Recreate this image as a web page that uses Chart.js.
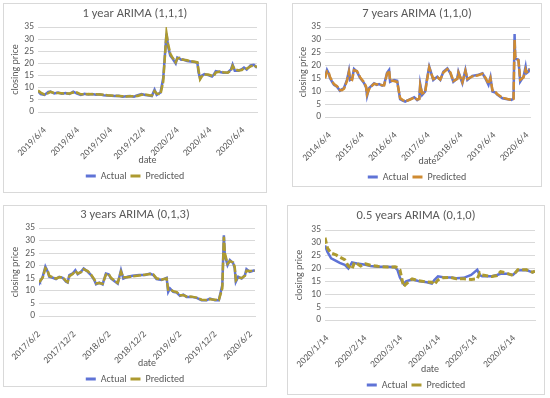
<!DOCTYPE html>
<html><head><meta charset="utf-8">
<script src="https://cdn.jsdelivr.net/npm/chart.js@4/dist/chart.umd.min.js"></script>
<style>
html,body{margin:0;padding:0;background:#fff;overflow:hidden;width:550px;height:398px;}
.box{position:absolute;border:1px solid #D9D9D9;box-sizing:border-box;}
canvas{position:absolute;}
</style></head><body>
<script>
// ---------- Panel 1: 1 year ARIMA (1,1,1) ----------
const dates1 = ['2019/5/22','2019/5/27','2019/6/3','2019/6/10','2019/6/14','2019/6/21','2019/6/28','2019/7/5','2019/7/12','2019/7/19','2019/7/26','2019/8/2','2019/8/9','2019/8/16','2019/8/23','2019/8/30','2019/9/6','2019/9/13','2019/9/20','2019/9/27','2019/10/11','2019/10/18','2019/10/25','2019/11/1','2019/11/8','2019/11/15','2019/11/22','2019/11/29','2019/12/6','2019/12/13','2019/12/18','2019/12/23','2019/12/27','2020/1/3','2020/1/8','2020/1/14','2020/1/17','2020/1/21','2020/1/24','2020/1/31','2020/2/3','2020/2/7','2020/2/10','2020/2/14','2020/2/21','2020/2/28','2020/3/6','2020/3/11','2020/3/13','2020/3/16','2020/3/19','2020/3/24','2020/3/31','2020/4/7','2020/4/10','2020/4/14','2020/4/21','2020/4/28','2020/5/6','2020/5/12','2020/5/15','2020/5/19','2020/5/26','2020/6/1','2020/6/5','2020/6/10','2020/6/17','2020/6/23','2020/6/29'];
const actual1 = [8.6,7.4,7.0,8.3,8.4,7.6,8.0,7.5,7.8,7.4,8.4,7.6,7.0,7.5,7.2,7.4,7.1,7.3,6.9,6.8,6.6,6.7,6.3,6.5,6.6,6.3,6.9,7.4,7.0,6.8,6.6,9.2,7.0,8.0,14.0,32.3,27.0,23.2,22.4,20.0,22.4,22.0,21.5,21.6,21.0,20.8,20.6,20.3,16.5,13.8,15.0,15.6,15.2,14.6,15.3,16.8,16.5,16.2,16.3,17.5,19.5,17.0,17.0,17.6,18.3,17.5,19.2,19.4,18.2];
const predicted1 = [8.8,8.0,7.2,7.8,8.3,7.8,7.8,7.7,7.6,7.6,8.0,8.0,7.3,7.3,7.4,7.3,7.3,7.2,7.1,6.9,6.7,6.6,6.5,6.4,6.5,6.5,6.6,7.1,7.2,6.9,6.8,8.6,7.6,7.4,12.5,32.5,28.0,24.0,22.8,20.5,22.0,22.3,21.8,21.5,21.3,20.9,20.7,20.5,17.5,13.5,14.6,15.4,15.4,14.9,14.8,16.2,16.7,16.4,16.2,17.0,19.0,17.6,17.1,17.3,18.0,17.8,18.8,19.2,18.5];
const ticks1 = ['2019/6/4','2019/8/4','2019/10/4','2019/12/4','2020/2/4','2020/4/4','2020/6/4'];

// ---------- Panel 2: 7 years ARIMA (1,1,0) ----------
const dates2 = ['2014/4/10','2014/5/2','2014/5/20','2014/6/4','2014/7/1','2014/7/19','2014/8/21','2014/9/23','2014/10/15','2014/11/7','2014/12/10','2015/1/1','2015/1/13','2015/2/5','2015/2/26','2015/3/31','2015/5/4','2015/6/17','2015/7/10','2015/7/21','2015/8/12','2015/9/10','2015/10/7','2015/11/5','2015/12/1','2016/1/5','2016/1/26','2016/2/28','2016/3/22','2016/4/2','2016/5/16','2016/6/19','2016/7/22','2016/8/20','2016/9/16','2016/10/15','2016/11/10','2016/12/25','2017/1/27','2017/2/20','2017/3/2','2017/3/24','2017/4/26','2017/5/15','2017/6/10','2017/7/25','2017/9/8','2017/10/11','2017/11/14','2017/12/28','2018/1/31','2018/3/5','2018/4/18','2018/4/30','2018/6/13','2018/7/17','2018/8/8','2018/10/2','2018/11/27','2019/1/22','2019/2/24','2019/3/30','2019/4/21','2019/5/13','2019/6/15','2019/7/8','2019/9/1','2019/10/27','2019/12/11','2020/1/2','2020/1/14','2020/1/21','2020/2/26','2020/3/16','2020/4/22','2020/5/15','2020/5/25','2020/6/16','2020/6/30'];
const actual2 = [15.5,18.3,17.0,15.2,13.5,12.5,11.8,10.2,10.8,11.3,14.4,18.0,14.4,14.8,18.7,17.6,15.2,13.2,11.5,8.2,11.2,12.2,13.1,12.5,12.8,12.2,12.5,17.2,18.3,13.7,14.4,14.1,6.9,6.4,6.0,6.5,6.9,7.7,6.6,7.2,12.8,8.6,9.9,14.5,19.6,14.4,15.7,14.4,17.6,18.9,17.0,13.7,15.0,17.6,13.1,18.3,14.4,16.0,16.3,17.0,15.0,12.5,15.5,9.9,9.5,8.6,7.3,6.9,6.6,7.3,32.3,22.8,22.2,13.7,15.7,19.6,17.0,17.6,18.9];
const predicted2 = [15.0,17.8,17.5,15.6,13.8,12.8,12.0,10.5,10.4,11.0,14.0,17.5,15.0,14.5,18.2,17.9,15.5,13.5,11.8,8.8,10.8,12.0,12.9,12.7,12.6,12.4,12.3,16.8,18.0,14.2,14.0,13.6,7.4,6.6,6.2,6.4,6.8,7.5,6.8,7.0,12.2,9.2,9.6,14.0,19.2,14.8,15.5,14.6,17.3,18.6,17.3,14.0,14.8,17.2,13.5,17.9,14.8,15.8,16.1,16.8,15.3,12.9,15.0,10.4,9.7,8.8,7.5,7.0,6.7,7.0,30.0,23.5,22.0,14.5,15.4,18.5,17.4,17.8,18.6];
const ticks2 = ['2014/6/4','2015/6/4','2016/6/4','2017/6/4','2018/6/4','2019/6/4','2020/6/4'];

// ---------- Panel 3: 3 years ARIMA (0,1,3) ----------
const dates3 = ['2017/6/2','2017/6/7','2017/6/21','2017/7/5','2017/7/17','2017/7/25','2017/8/12','2017/8/29','2017/9/15','2017/10/2','2017/10/20','2017/10/28','2017/11/6','2017/11/23','2017/12/7','2017/12/19','2018/1/5','2018/1/19','2018/2/9','2018/2/26','2018/3/15','2018/3/24','2018/4/10','2018/4/27','2018/5/14','2018/5/28','2018/6/9','2018/6/26','2018/7/14','2018/7/31','2018/8/12','2018/9/3','2018/9/29','2018/11/2','2018/12/2','2018/12/28','2019/1/14','2019/1/31','2019/2/26','2019/3/24','2019/4/1','2019/4/10','2019/4/27','2019/5/15','2019/6/1','2019/6/18','2019/7/5','2019/7/31','2019/8/26','2019/9/21','2019/10/17','2019/11/3','2019/11/29','2019/12/19','2020/1/6','2020/1/14','2020/1/19','2020/2/2','2020/2/14','2020/3/2','2020/3/10','2020/3/16','2020/3/28','2020/4/15','2020/5/2','2020/5/10','2020/5/27','2020/6/22'];
const actual3 = [14.0,13.6,15.6,19.6,17.6,15.6,15.2,14.7,15.6,15.2,13.6,13.3,16.3,16.9,18.2,16.6,17.6,18.9,17.6,16.3,14.3,12.6,13.3,12.6,16.9,16.6,14.9,13.9,12.9,18.2,14.9,15.6,16.0,16.3,16.3,16.9,16.3,14.7,14.3,15.2,9.6,11.0,9.6,9.3,8.0,8.5,7.6,7.6,7.2,6.3,6.3,6.9,6.3,6.3,12.3,32.1,24.2,20.2,22.2,21.0,19.0,13.6,15.6,14.9,16.3,18.6,17.6,18.2];
const predicted3 = [14.3,13.8,15.2,19.0,18.0,16.0,15.4,14.9,15.4,15.4,13.9,13.5,15.8,16.7,17.9,16.9,17.4,18.6,17.9,16.5,14.6,13.0,13.1,12.8,16.4,16.8,15.2,14.1,13.2,17.6,15.4,15.4,15.8,16.1,16.4,16.7,16.5,15.0,14.5,14.9,10.5,10.6,9.9,9.5,8.3,8.3,7.8,7.7,7.3,6.5,6.4,6.7,6.5,6.4,11.0,31.5,25.0,20.8,21.8,21.3,19.6,14.2,15.2,15.1,16.0,18.0,17.9,18.0];
const ticks3 = ['2017/6/2','2017/12/2','2018/6/2','2018/12/2','2019/6/2','2019/12/2','2020/6/2'];

// ---------- Panel 4: 0.5 years ARIMA (0,1,0) ----------
const dates4 = ['2020/1/12','2020/1/14','2020/1/17','2020/1/21','2020/1/24','2020/1/28','2020/1/31','2020/2/3','2020/2/5','2020/2/7','2020/2/10','2020/2/14','2020/2/18','2020/2/24','2020/3/3','2020/3/9','2020/3/11','2020/3/13','2020/3/16','2020/3/18','2020/3/23','2020/3/28','2020/4/4','2020/4/8','2020/4/10','2020/4/13','2020/4/17','2020/4/23','2020/4/28','2020/5/4','2020/5/10','2020/5/15','2020/5/17','2020/5/19','2020/5/27','2020/5/31','2020/6/3','2020/6/8','2020/6/13','2020/6/17','2020/6/24','2020/6/29','2020/7/1'];
const actual4 = [29.0,26.5,24.0,23.0,22.2,21.5,20.0,22.4,22.2,22.0,21.8,21.5,21.0,20.7,20.7,20.5,19.5,16.5,14.0,15.0,15.8,15.2,14.7,14.2,15.5,17.0,16.6,16.5,16.2,16.4,17.5,19.5,17.5,17.0,17.0,17.5,18.0,18.0,17.5,19.3,19.4,18.5,19.0];
const predicted4 = [32.0,28.0,26.0,25.3,24.5,23.5,21.0,19.8,22.4,22.0,21.0,21.8,21.3,20.9,20.6,20.7,20.4,19.5,13.0,14.0,16.0,15.3,14.8,14.7,13.8,15.6,16.4,16.6,16.0,16.0,15.8,16.0,18.3,17.5,16.9,17.3,18.8,18.2,17.3,19.5,19.5,18.6,19.0];
const ticks4 = ['2020/1/14','2020/2/14','2020/3/14','2020/4/14','2020/5/14','2020/6/14'];

const yTicks = [0,5,10,15,20,25,30,35];

// ---------- rendering ----------
const FONT = "Carlito, Lato, 'Liberation Sans', sans-serif";
const TXT = '#595959';
const F_TITLE = 12.5, F_TICK = 9.5, F_AXIS = 10, F_LEG = 10;
function day(s){const p=s.split('/').map(Number);return Date.UTC(p[0],p[1]-1,p[2])/864e5;}
function pts(dates, vals){return dates.map((d,i)=>({x:day(d),y:vals[i]}));}

function makePanel(L, title, dates, actual, predicted, ticks, range, st){
  const W = L.box.w;
  const legPad = 4;
  const legTopOff = legPad + F_LEG/2;            // legend top -> item centre
  const legH = F_LEG + legPad + 10;              // Chart.js legend height
  const Hf = L.legendY - L.box.y - legTopOff + legH;
  const H = Math.ceil(Hf);
  const b = document.createElement('div'); b.className='box';
  Object.assign(b.style,{left:L.box.x+'px',top:L.box.y+'px',width:L.box.w+'px',height:L.box.h+'px'});
  document.body.appendChild(b);
  const c = document.createElement('canvas'); c.width=W; c.height=H;
  Object.assign(c.style,{left:L.box.x+'px',top:L.box.y+'px',width:W+'px',height:H+'px'});
  document.body.appendChild(c);
  const tLH = F_TITLE*1.2, aLH = F_AXIS*1.2;
  const padR = L.box.x + W - L.plotR;
  const tTop = L.titleY - L.box.y - tLH/2;
  const tBot = L.plotT - L.box.y - tTop - tLH;
  const legTop = L.legendY - legTopOff;
  const xH = legTop - L.plotB;
  const dPadB = legTop - L.dateY - aLH/2;
  const yW = L.plotL - L.box.x - padR;
  const yPadT = L.yTitleX - L.box.x - padR - aLH/2;
  const tickVals = ticks.map(day);
  new Chart(c, {
    type:'line',
    data:{datasets:[
      {label:'Actual', data:pts(dates,actual), borderColor:st.a, backgroundColor:st.a, borderWidth:st.aw, pointRadius:0, tension:0, order:1},
      {label:'Predicted', data:pts(dates,predicted), borderColor:st.p, backgroundColor:st.p, borderWidth:st.pw, borderDash:st.dash, pointRadius:0, tension:0, order:0}
    ]},
    options:{
      responsive:false, animation:false, events:[],
      layout:{padding:{left:padR,right:padR,top:0,bottom:H-Hf}},
      plugins:{
        title:{display:true,text:title,color:TXT,font:{family:FONT,size:F_TITLE,weight:'normal'},padding:{top:tTop,bottom:tBot}},
        legend:{position:'bottom',labels:{color:TXT,font:{family:FONT,size:F_LEG},boxWidth:10,boxHeight:3,padding:legPad,
          sort:(a,b)=>a.datasetIndex-b.datasetIndex,
          generateLabels:(ch)=>Chart.defaults.plugins.legend.labels.generateLabels(ch).map(l=>Object.assign(l,{lineWidth:0,lineDash:[]}))}},
        tooltip:{enabled:false}
      },
      scales:{
        x:{type:'linear',min:day(range[0]),max:day(range[1]),grid:{display:false},border:{display:true,color:'#D9D9D9'},
          afterBuildTicks:(s)=>{s.ticks=tickVals.map(v=>({value:v}));},
          afterFit:(s)=>{s.height=xH;},
          ticks:{autoSkip:false,maxRotation:45,minRotation:45,padding:5,color:TXT,font:{family:FONT,size:F_TICK},
            callback:(v)=>{const i=tickVals.indexOf(v);return i>=0?ticks[i]:'';}},
          title:{display:true,text:'date',color:TXT,font:{family:FONT,size:F_AXIS},padding:{top:0,bottom:dPadB}}},
        y:{min:0,max:35,afterFit:(s)=>{s.width=yW;},
          afterBuildTicks:(s)=>{s.ticks=yTicks.map(v=>({value:v}));},
          grid:{color:'#D9D9D9',drawTicks:false},border:{display:false},
          ticks:{autoSkip:false,padding:4,color:TXT,font:{family:FONT,size:F_TICK}},
          title:{display:true,text:'closing price',color:TXT,font:{family:FONT,size:F_AXIS},padding:{top:yPadT,bottom:0}}}
      }
    }
  });
}

const BLUE='#5F73D6', OLIVE='#AD9A30', ORANGE='#CF8B32';
makePanel({box:{x:3,y:3,w:264,h:190},titleY:14,plotL:38,plotR:257,plotT:27,plotB:112,dateY:160,legendY:176,yTitleX:15},
  '1 year ARIMA (1,1,1)', dates1, actual1, predicted1, ticks1, ['2019/5/22','2020/6/29'], {a:BLUE,p:OLIVE,aw:2.5,pw:2.5,dash:[8,2]});
makePanel({box:{x:292,y:3,w:250,h:184},titleY:14,plotL:325,plotR:530,plotT:27,plotB:117,dateY:161,legendY:177,yTitleX:303},
  '7 years ARIMA (1,1,0)', dates2, actual2, predicted2, ticks2, ['2014/4/10','2020/7/3'], {a:BLUE,p:ORANGE,aw:2.5,pw:2.5,dash:[8,2]});
makePanel({box:{x:3,y:205,w:264,h:182},titleY:215,plotL:39,plotR:255,plotT:228,plotB:316,dateY:363,legendY:379,yTitleX:15},
  '3 years ARIMA (0,1,3)', dates3, actual3, predicted3, ticks3, ['2017/6/2','2020/6/23'], {a:BLUE,p:OLIVE,aw:2.5,pw:2.5,dash:[8,2]});
makePanel({box:{x:287,y:205,w:258,h:190},titleY:216,plotL:325,plotR:535,plotT:230,plotB:320,dateY:369,legendY:385,yTitleX:299},
  '0.5 years ARIMA (0,1,0)', dates4, actual4, predicted4, ticks4, ['2020/1/12','2020/7/1'], {a:BLUE,p:OLIVE,aw:2.5,pw:3,dash:[6,3]});
</script></body></html>
